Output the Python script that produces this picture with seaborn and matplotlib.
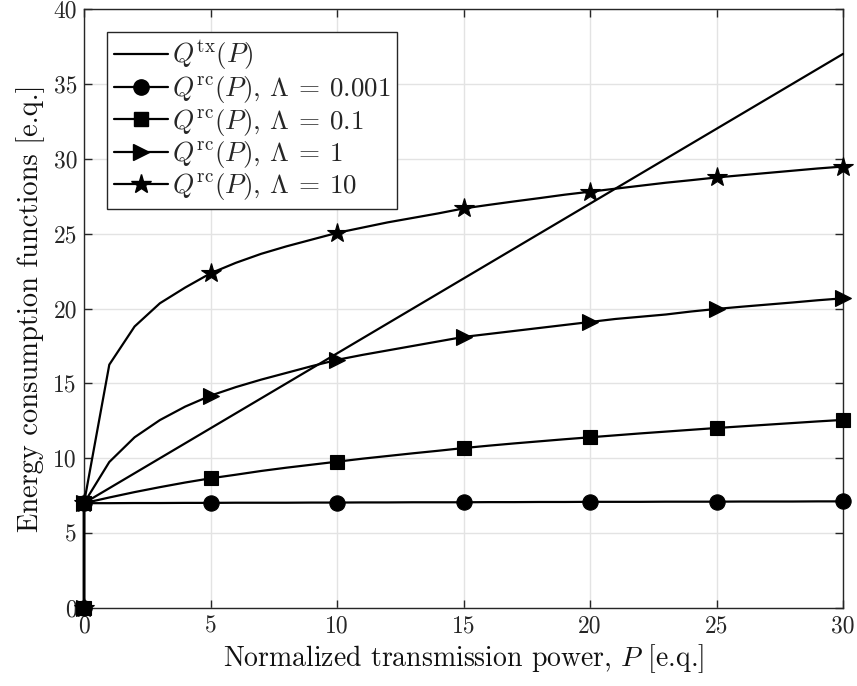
import matplotlib
matplotlib.use("Agg")
import matplotlib.pyplot as plt
from matplotlib.lines import Line2D
import seaborn as sns
import pandas as pd

# ---- data ----
P = [0, 0, 1, 2, 3, 4, 5, 6, 7, 8, 9, 10, 11, 12, 13, 14, 15, 16, 17, 18, 19, 20,
     21, 22, 23, 24, 25, 26, 27, 28, 29, 30]
Q_tx = [0, 7, 8, 9, 10, 11, 12, 13, 14, 15, 16, 17, 18, 19, 20, 21, 22, 23, 24, 25,
        26, 27, 28, 29, 30, 31, 32, 33, 34, 35, 36, 37]
Q_rc_0001 = [0, 7.0, 7.0, 7.01, 7.01, 7.02, 7.02, 7.03, 7.03, 7.03, 7.04, 7.04, 7.05,
             7.05, 7.06, 7.06, 7.06, 7.07, 7.07, 7.08, 7.08, 7.09, 7.09, 7.09, 7.10,
             7.10, 7.10, 7.11, 7.11, 7.11, 7.12, 7.12]
Q_rc_01 = [0, 7, 7.38, 7.74, 8.07, 8.38, 8.66, 8.9, 9.15, 9.37, 9.57, 9.77, 9.97,
           10.15, 10.33, 10.5, 10.68, 10.84, 10.99, 11.13, 11.27, 11.4, 11.53, 11.66,
           11.78, 11.9, 12.02, 12.13, 12.24, 12.35, 12.46, 12.56]
Q_rc_1 = [0, 7, 9.75, 11.4, 12.55, 13.45, 14.18, 14.75, 15.25, 15.7, 16.15, 16.57,
          16.9, 17.2, 17.5, 17.8, 18.1, 18.3, 18.5, 18.7, 18.9, 19.1, 19.3, 19.45,
          19.6, 19.8, 19.97, 20.12, 20.26, 20.4, 20.55, 20.68]
Q_rc_10 = [0, 7, 16.25, 18.8, 20.35, 21.4, 22.35, 23.05, 23.65, 24.15, 24.6, 25.05,
           25.4, 25.75, 26.05, 26.35, 26.68, 26.92, 27.15, 27.37, 27.6, 27.8, 28.0,
           28.2, 28.4, 28.57, 28.75, 28.9, 29.05, 29.2, 29.35, 29.48]

labels = [r"$Q^{\mathrm{tx}}(P)$",
          r"$Q^{\mathrm{rc}}(P)$, $\Lambda\:=\:0.001$",
          r"$Q^{\mathrm{rc}}(P)$, $\Lambda\:=\:0.1$",
          r"$Q^{\mathrm{rc}}(P)$, $\Lambda\:=\:1$",
          r"$Q^{\mathrm{rc}}(P)$, $\Lambda\:=\:10$"]
x_ticks = [0, 5, 10, 15, 20, 25, 30]
y_ticks = [0, 5, 10, 15, 20, 25, 30, 35, 40]

# ---- style ----
sns.set_style("white")
plt.rcParams["font.family"] = ["cmr10", "DejaVu Serif"]
plt.rcParams["mathtext.fontset"] = "cm"
plt.rcParams["axes.formatter.use_mathtext"] = True
plt.rcParams["axes.unicode_minus"] = False

fig = plt.figure(figsize=(8.57, 6.86), dpi=100)
ax = fig.add_axes([84 / 857, 78 / 686, (843 - 84) / 857, (608 - 9) / 686])

series = [
    (Q_tx, None, 0),
    (Q_rc_0001, "o", 11),
    (Q_rc_01, "s", 10),
    (Q_rc_1, ">", 12),
    (Q_rc_10, "*", 15),
]
mark_idx = [0, 1, 6, 11, 16, 21, 26, 31]

for vals, mk, ms in series:
    df = pd.DataFrame({"P": P, "Q": vals})
    kw = dict(color="black", lw=1.6, clip_on=False, zorder=3)
    if mk is not None:
        kw.update(marker=mk, markersize=ms, markevery=mark_idx,
                  markerfacecolor="black", markeredgecolor="black", markeredgewidth=0.8)
    sns.lineplot(data=df, x="P", y="Q", ax=ax, estimator=None, sort=False,
                 legend=False, **kw)

ax.set_xlim(0, 30)
ax.set_ylim(0, 40)
ax.set_xticks(x_ticks)
ax.set_yticks(y_ticks)
ax.set_xticklabels([str(t) for t in x_ticks])
ax.set_yticklabels([str(t) for t in y_ticks])

ax.grid(True, color="#e3e3e3", lw=1.0, zorder=0)
ax.set_axisbelow(True)
for s in ax.spines.values():
    s.set_visible(True)
    s.set_color("#262626")
    s.set_linewidth(1.0)
ax.tick_params(direction="in", length=6, width=1.0, color="#262626",
               labelsize=17, labelcolor="#262626", top=True, right=True,
               bottom=True, left=True, pad=5)

ax.set_xlabel(r"Normalized transmission power, $P$ [e.q.]", fontsize=20, color="#111111",
              labelpad=4)
ax.set_ylabel("Energy consumption functions [e.q.]", fontsize=20.5, color="#111111",
              labelpad=6)

handles = []
for vals, mk, ms in series:
    if mk is None:
        handles.append(Line2D([], [], color="black", lw=1.6))
    else:
        handles.append(Line2D([], [], color="black", lw=1.6, marker=mk, markersize=ms,
                              markerfacecolor="black", markeredgecolor="black"))
leg = ax.legend(handles, labels, loc="upper left", bbox_to_anchor=(0.03, 0.962),
                borderaxespad=0, fontsize=19.5, frameon=True, fancybox=False,
                framealpha=1, edgecolor="#262626", handlelength=2.0,
                handletextpad=0.15, labelspacing=0.05, borderpad=0.25)
leg.get_frame().set_linewidth(1.0)

fig.savefig("out.png", dpi=100)
